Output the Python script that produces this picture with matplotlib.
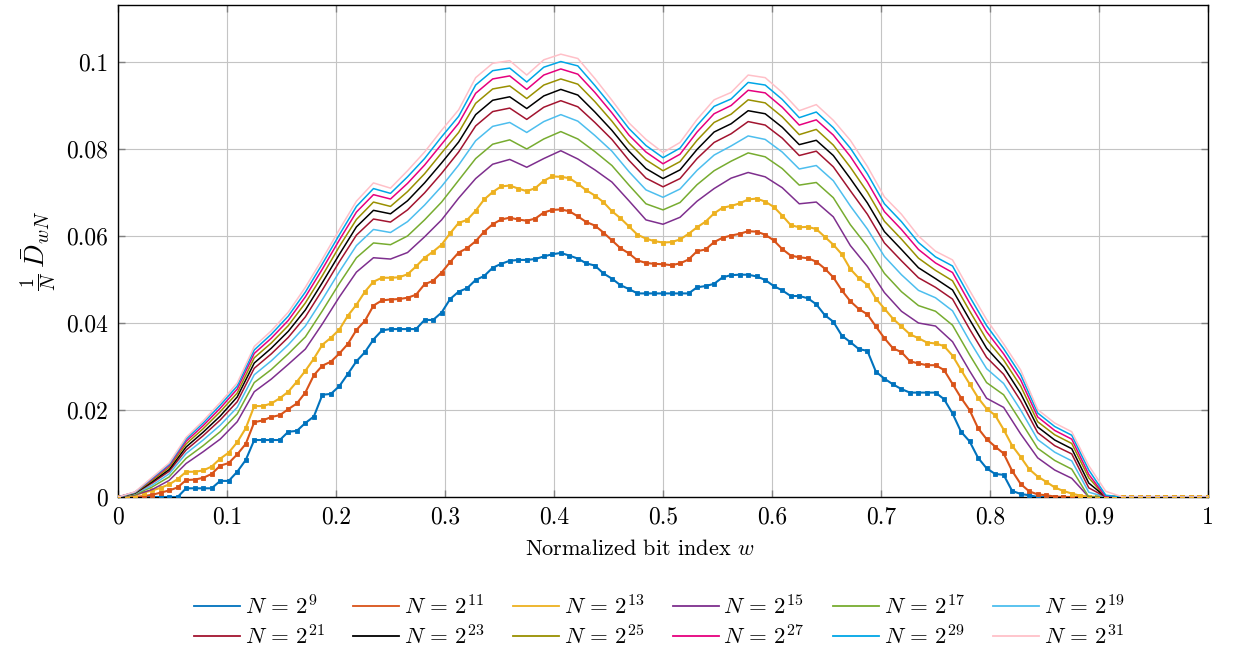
from __future__ import annotations

import matplotlib

matplotlib.use("Agg")
import matplotlib.pyplot as plt
import numpy as np


# marker curves are sampled every 1/128, the smooth ones every 1/64
N_9 = [
    0, 0, 0, 0, 0, 0, 0, 0,
    0.0020, 0.0020, 0.0020, 0.0020, 0.0037, 0.0037, 0.0058, 0.0085,
    0.0131, 0.0131, 0.0131, 0.0131, 0.0150, 0.0152, 0.0170, 0.0185,
    0.0235, 0.0237, 0.0255, 0.0283, 0.0312, 0.0333, 0.0362, 0.0383,
    0.0386, 0.0386, 0.0386, 0.0386, 0.0407, 0.0407, 0.0424, 0.0455,
    0.0472, 0.0480, 0.0499, 0.0508, 0.0527, 0.0536, 0.0543, 0.0545,
    0.0545, 0.0547, 0.0553, 0.0558, 0.0561, 0.0555, 0.0548, 0.0537,
    0.0532, 0.0514, 0.0502, 0.0487, 0.0478, 0.0468, 0.0468, 0.0468,
    0.0468, 0.0468, 0.0468, 0.0468, 0.0482, 0.0485, 0.0490, 0.0505,
    0.0510, 0.0511, 0.0511, 0.0507, 0.0499, 0.0485, 0.0475, 0.0462,
    0.0462, 0.0457, 0.0443, 0.0418, 0.0403, 0.0371, 0.0356, 0.0340,
    0.0336, 0.0288, 0.0272, 0.0259, 0.0248, 0.0240, 0.0240, 0.0240,
    0.0240, 0.0225, 0.0192, 0.0150, 0.0128, 0.0090, 0.0066, 0.0053,
    0.0051, 0.0014, 0.0007, 0.0004, 0, 0, 0, 0,
    0, 0, 0, 0, 0, 0, 0, 0,
    0, 0, 0, 0, 0, 0, 0, 0,
    0,
]
N_11 = [
    0, 0, 0, 0.0002, 0.0005, 0.0010, 0.0015, 0.0022,
    0.0039, 0.0040, 0.0044, 0.0053, 0.0072, 0.0078, 0.0098, 0.0122,
    0.0172, 0.0176, 0.0184, 0.0188, 0.0202, 0.0215, 0.0240, 0.0280,
    0.0302, 0.0311, 0.0330, 0.0352, 0.0384, 0.0405, 0.0440, 0.0452,
    0.0454, 0.0455, 0.0458, 0.0465, 0.0489, 0.0497, 0.0516, 0.0540,
    0.0562, 0.0572, 0.0588, 0.0610, 0.0627, 0.0638, 0.0642, 0.0638,
    0.0635, 0.0640, 0.0654, 0.0660, 0.0661, 0.0657, 0.0645, 0.0632,
    0.0624, 0.0608, 0.0590, 0.0572, 0.0560, 0.0544, 0.0538, 0.0536,
    0.0535, 0.0533, 0.0537, 0.0546, 0.0565, 0.0569, 0.0586, 0.0596,
    0.0601, 0.0605, 0.0611, 0.0610, 0.0603, 0.0590, 0.0570, 0.0555,
    0.0551, 0.0549, 0.0541, 0.0525, 0.0505, 0.0475, 0.0450, 0.0432,
    0.0420, 0.0392, 0.0365, 0.0342, 0.0333, 0.0312, 0.0307, 0.0303,
    0.0303, 0.0292, 0.0260, 0.0228, 0.0200, 0.0158, 0.0133, 0.0116,
    0.0100, 0.0060, 0.0030, 0.0013, 0.0006, 0.0004, 0.0001, 0,
    0, 0, 0, 0, 0, 0, 0, 0,
    0, 0, 0, 0, 0, 0, 0, 0,
    0,
]
N_13 = [
    0, 0.0001, 0.0005, 0.0010, 0.0015, 0.0021, 0.0029, 0.0041,
    0.0058, 0.0058, 0.0061, 0.0070, 0.0088, 0.0102, 0.0126, 0.0158,
    0.0209, 0.0209, 0.0215, 0.0227, 0.0242, 0.0265, 0.0290, 0.0318,
    0.0350, 0.0366, 0.0385, 0.0417, 0.0442, 0.0472, 0.0495, 0.0504,
    0.0504, 0.0505, 0.0512, 0.0530, 0.0550, 0.0564, 0.0580, 0.0606,
    0.0630, 0.0637, 0.0658, 0.0684, 0.0701, 0.0714, 0.0716, 0.0709,
    0.0703, 0.0710, 0.0727, 0.0737, 0.0736, 0.0733, 0.0720, 0.0705,
    0.0693, 0.0678, 0.0657, 0.0641, 0.0622, 0.0603, 0.0594, 0.0588,
    0.0585, 0.0586, 0.0592, 0.0605, 0.0620, 0.0633, 0.0652, 0.0665,
    0.0669, 0.0675, 0.0684, 0.0686, 0.0679, 0.0667, 0.0647, 0.0625,
    0.0620, 0.0621, 0.0616, 0.0598, 0.0580, 0.0558, 0.0524, 0.0503,
    0.0488, 0.0456, 0.0433, 0.0410, 0.0392, 0.0374, 0.0365, 0.0355,
    0.0353, 0.0347, 0.0325, 0.0292, 0.0260, 0.0228, 0.0203, 0.0188,
    0.0155, 0.0118, 0.0092, 0.0064, 0.0047, 0.0035, 0.0022, 0.0014,
    0.0008, 0.0003, 0.0001, 0, 0, 0, 0, 0,
    0, 0, 0, 0, 0, 0, 0, 0,
    0,
]

N_15 = [
    0, 0.0005, 0.0017, 0.0038, 0.0077, 0.0104, 0.0133, 0.0173,
    0.0242, 0.0271, 0.0305, 0.0340, 0.0398, 0.0460, 0.0517, 0.0550,
    0.0547, 0.0562, 0.0598, 0.0637, 0.0687, 0.0732, 0.0765, 0.0776,
    0.0758, 0.0778, 0.0796, 0.0777, 0.0752, 0.0724, 0.0681, 0.0637,
    0.0627, 0.0643, 0.0680, 0.0709, 0.0733, 0.0746, 0.0736, 0.0711,
    0.0674, 0.0678, 0.0644, 0.0578, 0.0530, 0.0470, 0.0427, 0.0400,
    0.0393, 0.0357, 0.0290, 0.0227, 0.0206, 0.0145, 0.0090, 0.0062,
    0.0043, 0, 0, 0, 0, 0, 0, 0,
    0,
]
N_17 = [
    0, 0.0006, 0.0023, 0.0046, 0.0089, 0.0118, 0.0150, 0.0191,
    0.0263, 0.0293, 0.0329, 0.0368, 0.0428, 0.0491, 0.0550, 0.0584,
    0.0580, 0.0600, 0.0637, 0.0678, 0.0728, 0.0778, 0.0811, 0.0821,
    0.0800, 0.0823, 0.0840, 0.0823, 0.0794, 0.0762, 0.0717, 0.0674,
    0.0660, 0.0677, 0.0718, 0.0750, 0.0772, 0.0791, 0.0782, 0.0755,
    0.0717, 0.0723, 0.0688, 0.0626, 0.0576, 0.0514, 0.0472, 0.0440,
    0.0427, 0.0395, 0.0327, 0.0263, 0.0235, 0.0174, 0.0112, 0.0084,
    0.0064, 0, 0, 0, 0, 0, 0, 0,
    0,
]
N_19 = [
    0, 0.0008, 0.0027, 0.0053, 0.0100, 0.0131, 0.0165, 0.0206,
    0.0281, 0.0313, 0.0350, 0.0393, 0.0454, 0.0518, 0.0578, 0.0615,
    0.0608, 0.0633, 0.0671, 0.0714, 0.0763, 0.0819, 0.0852, 0.0861,
    0.0838, 0.0863, 0.0879, 0.0864, 0.0831, 0.0795, 0.0748, 0.0706,
    0.0689, 0.0708, 0.0751, 0.0786, 0.0807, 0.0830, 0.0822, 0.0793,
    0.0754, 0.0762, 0.0727, 0.0669, 0.0616, 0.0553, 0.0511, 0.0475,
    0.0458, 0.0428, 0.0359, 0.0295, 0.0261, 0.0200, 0.0132, 0.0103,
    0.0083, 0.0011, 0, 0, 0, 0, 0, 0,
    0,
]
N_21 = [
    0, 0.0009, 0.0032, 0.0059, 0.0108, 0.0141, 0.0177, 0.0219,
    0.0296, 0.0329, 0.0367, 0.0414, 0.0476, 0.0541, 0.0602, 0.0639,
    0.0632, 0.0660, 0.0699, 0.0744, 0.0793, 0.0853, 0.0886, 0.0894,
    0.0868, 0.0896, 0.0911, 0.0897, 0.0861, 0.0822, 0.0774, 0.0733,
    0.0713, 0.0732, 0.0778, 0.0815, 0.0835, 0.0863, 0.0855, 0.0825,
    0.0785, 0.0795, 0.0759, 0.0704, 0.0650, 0.0584, 0.0543, 0.0504,
    0.0482, 0.0455, 0.0386, 0.0321, 0.0282, 0.0221, 0.0148, 0.0118,
    0.0099, 0.0021, 0, 0, 0, 0, 0, 0,
    0,
]
N_23 = [
    0, 0.0009, 0.0035, 0.0063, 0.0115, 0.0149, 0.0186, 0.0230,
    0.0308, 0.0342, 0.0381, 0.0430, 0.0493, 0.0558, 0.0621, 0.0659,
    0.0651, 0.0681, 0.0722, 0.0768, 0.0816, 0.0879, 0.0912, 0.0920,
    0.0893, 0.0922, 0.0937, 0.0924, 0.0885, 0.0843, 0.0795, 0.0755,
    0.0732, 0.0752, 0.0799, 0.0839, 0.0858, 0.0888, 0.0881, 0.0850,
    0.0810, 0.0820, 0.0785, 0.0732, 0.0676, 0.0610, 0.0569, 0.0527,
    0.0502, 0.0476, 0.0408, 0.0342, 0.0299, 0.0238, 0.0161, 0.0131,
    0.0111, 0.0032, 0, 0, 0, 0, 0, 0,
    0,
]
N_25 = [
    0, 0.0010, 0.0038, 0.0068, 0.0122, 0.0157, 0.0196, 0.0239,
    0.0320, 0.0354, 0.0394, 0.0446, 0.0509, 0.0576, 0.0638, 0.0678,
    0.0668, 0.0702, 0.0743, 0.0791, 0.0838, 0.0905, 0.0938, 0.0945,
    0.0916, 0.0947, 0.0961, 0.0949, 0.0909, 0.0864, 0.0814, 0.0775,
    0.0750, 0.0771, 0.0820, 0.0861, 0.0880, 0.0913, 0.0906, 0.0874,
    0.0833, 0.0845, 0.0809, 0.0758, 0.0701, 0.0634, 0.0593, 0.0549,
    0.0521, 0.0497, 0.0428, 0.0362, 0.0315, 0.0255, 0.0173, 0.0143,
    0.0123, 0.0044, 0, 0, 0, 0, 0, 0,
    0,
]
N_27 = [
    0, 0.0011, 0.0041, 0.0072, 0.0128, 0.0164, 0.0204, 0.0248,
    0.0330, 0.0365, 0.0406, 0.0460, 0.0524, 0.0591, 0.0655, 0.0695,
    0.0685, 0.0721, 0.0763, 0.0811, 0.0859, 0.0928, 0.0961, 0.0968,
    0.0937, 0.0970, 0.0984, 0.0972, 0.0930, 0.0883, 0.0832, 0.0793,
    0.0766, 0.0788, 0.0839, 0.0881, 0.0900, 0.0935, 0.0929, 0.0896,
    0.0855, 0.0867, 0.0832, 0.0783, 0.0724, 0.0656, 0.0615, 0.0569,
    0.0538, 0.0516, 0.0446, 0.0380, 0.0329, 0.0269, 0.0184, 0.0153,
    0.0133, 0.0052, 0, 0, 0, 0, 0, 0,
    0,
]
N_29 = [
    0, 0.0011, 0.0043, 0.0075, 0.0133, 0.0170, 0.0211, 0.0255,
    0.0338, 0.0374, 0.0416, 0.0471, 0.0536, 0.0603, 0.0668, 0.0709,
    0.0698, 0.0736, 0.0778, 0.0828, 0.0875, 0.0947, 0.0980, 0.0986,
    0.0954, 0.0988, 0.1001, 0.0991, 0.0946, 0.0898, 0.0847, 0.0808,
    0.0780, 0.0802, 0.0854, 0.0898, 0.0915, 0.0953, 0.0947, 0.0914,
    0.0872, 0.0885, 0.0849, 0.0802, 0.0743, 0.0674, 0.0633, 0.0585,
    0.0552, 0.0531, 0.0461, 0.0394, 0.0341, 0.0281, 0.0193, 0.0162,
    0.0142, 0.0062, 0.0004, 0, 0, 0, 0, 0,
    0,
]
N_31 = [
    0, 0.0012, 0.0045, 0.0078, 0.0137, 0.0175, 0.0217, 0.0262,
    0.0346, 0.0382, 0.0425, 0.0482, 0.0547, 0.0615, 0.0680, 0.0722,
    0.0710, 0.0750, 0.0793, 0.0843, 0.0890, 0.0964, 0.0997, 0.1003,
    0.0970, 0.1005, 0.1018, 0.1008, 0.0962, 0.0912, 0.0860, 0.0822,
    0.0792, 0.0815, 0.0868, 0.0913, 0.0930, 0.0970, 0.0964, 0.0930,
    0.0888, 0.0902, 0.0866, 0.0820, 0.0760, 0.0690, 0.0650, 0.0600,
    0.0565, 0.0545, 0.0475, 0.0408, 0.0352, 0.0292, 0.0201, 0.0170,
    0.0150, 0.0072, 0.0013, 0, 0, 0, 0, 0,
    0,
]

EXPONENTS = [9, 11, 13, 15, 17, 19, 21, 23, 25, 27, 29, 31]
SERIES = [N_9, N_11, N_13, N_15, N_17, N_19, N_21, N_23, N_25, N_27, N_29, N_31]
COLORS = [
    "#0072BD", "#D95319", "#EDB120", "#7E2F8E", "#77AC30", "#4DBEEE",
    "#A2142F", "#000000", "#999000", "#E6007E", "#00A6E6", "#FFC0C8",
]
MARKED = 3  # first three series carry square markers

X_TICKS = [0, 0.1, 0.2, 0.3, 0.4, 0.5, 0.6, 0.7, 0.8, 0.9, 1.0]
X_TICK_LABELS = ["0", "0.1", "0.2", "0.3", "0.4", "0.5", "0.6", "0.7", "0.8", "0.9", "1"]
Y_TICKS = [0, 0.02, 0.04, 0.06, 0.08, 0.1]
Y_TICK_LABELS = ["0", "0.02", "0.04", "0.06", "0.08", "0.1"]


def main() -> None:
    plt.rcParams["font.family"] = "serif"
    plt.rcParams["font.serif"] = ["cmr10", "DejaVu Serif"]
    plt.rcParams["mathtext.fontset"] = "cm"
    plt.rcParams["axes.formatter.use_mathtext"] = True

    fig = plt.figure(figsize=(12.37, 6.59), dpi=100)
    ax = fig.add_axes([118 / 1237, 1 - 497 / 659, 1090 / 1237, 492 / 659])

    handles = []
    for i, (vals, exp, color) in enumerate(zip(SERIES, EXPONENTS, COLORS)):
        vals = np.asarray(vals, dtype=float)
        w = np.linspace(0, 1, len(vals))
        label = rf"$N\,=\,2^{{{exp}}}$"
        if i < MARKED:
            (h,) = ax.plot(w, vals, color=color, lw=1.5, marker="s", ms=3.4,
                           mew=0.6, label=label, zorder=3 + i)
        else:
            (h,) = ax.plot(w, vals, color=color, lw=1.1, label=label, zorder=3 + i)
        handles.append(h)

    ax.set_xlim(0, 1)
    ax.set_ylim(0, 0.1131)
    ax.set_xticks(X_TICKS)
    ax.set_xticklabels(X_TICK_LABELS)
    ax.set_yticks(Y_TICKS)
    ax.set_yticklabels(Y_TICK_LABELS)
    ax.grid(True, color="#c4c4c4", lw=0.8)
    ax.set_axisbelow(True)
    ax.tick_params(direction="in", length=5, width=1.0, color="#808080",
                   top=True, right=True, labelsize=17, pad=7)
    for sp in ax.spines.values():
        sp.set_linewidth(1.0)
        sp.set_color("black")

    ax.set_xlabel(r"Normalized bit index $w$", fontsize=16)
    ax.xaxis.set_label_coords(0.479, -0.085)
    ax.set_ylabel(r"$\frac{1}{N}\,\bar{D}_{wN}$", fontsize=20, labelpad=6)

    # legend is filled column by column, so interleave to get row order
    order = [0, 6, 1, 7, 2, 8, 3, 9, 4, 10, 5, 11]
    leg_handles = [plt.Line2D([], [], color=COLORS[k], lw=1.3) for k in order]
    leg_labels = [handles[k].get_label() for k in order]
    fig.legend(leg_handles, leg_labels, loc="center", ncol=6,
               bbox_to_anchor=(0.533, 0.0575), frameon=False, fontsize=16.5,
               handlelength=2.0, handletextpad=0.2, columnspacing=1.25,
               labelspacing=0.25)

    fig.savefig("out.png", dpi=100)
    plt.close(fig)


if __name__ == "__main__":
    main()
